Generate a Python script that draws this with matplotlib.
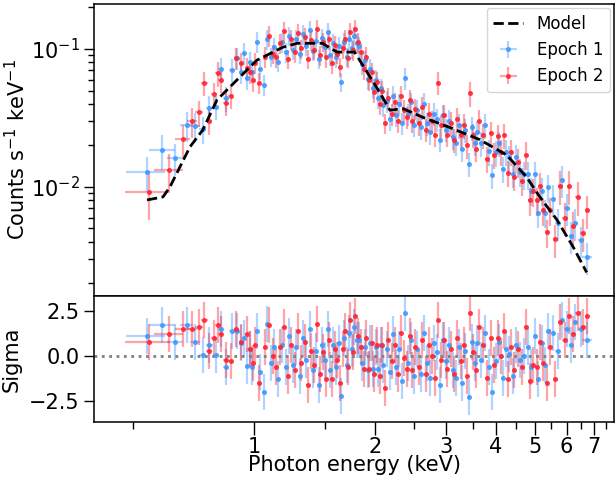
import numpy as np
import matplotlib
matplotlib.use("Agg")
import matplotlib.pyplot as plt
from matplotlib.ticker import FixedLocator, NullFormatter, FixedFormatter

# ---------------- data ----------------
model_energy = [0.542, 0.594, 0.618, 0.693, 0.746, 0.809, 0.907, 1.017, 1.18, 1.28,
                1.48, 1.61, 1.73, 1.78, 2.06, 2.18, 2.35, 2.63, 3.07, 3.65,
                4.26, 4.77, 5.14, 5.67, 6.22, 6.73]
model_counts = [0.00805, 0.00847, 0.0100, 0.0195, 0.0259, 0.0427, 0.0596, 0.083, 0.103, 0.110,
                0.110, 0.095, 0.095, 0.095, 0.048, 0.036, 0.037, 0.032, 0.027, 0.022,
                0.017, 0.0118, 0.0085, 0.0058, 0.0037, 0.0024]

e1_energy = [0.541, 0.592, 0.636, 0.680, 0.713, 0.745, 0.774, 0.804, 0.826, 0.852,
             0.880, 0.906, 0.930, 0.944, 0.959, 0.975, 0.990, 1.015, 1.035, 1.059, 1.080,
             1.100, 1.125, 1.150, 1.175, 1.200, 1.225, 1.250, 1.275, 1.300, 1.325,
             1.350, 1.375, 1.400, 1.425, 1.450, 1.475, 1.500, 1.525, 1.550, 1.575,
             1.600, 1.625, 1.650, 1.675, 1.700, 1.725, 1.750, 1.775, 1.800,
             1.83, 1.86, 1.89, 1.92, 1.95, 1.98, 2.01, 2.04, 2.07, 2.10,
             2.14, 2.18, 2.22, 2.26, 2.30, 2.34, 2.38, 2.42, 2.46, 2.50,
             2.55, 2.60, 2.65, 2.70, 2.75, 2.80, 2.85, 2.90, 2.95, 3.00,
             3.06, 3.12, 3.18, 3.24, 3.30, 3.36, 3.42, 3.48, 3.54, 3.60,
             3.68, 3.76, 3.84, 3.92, 4.00, 4.08, 4.16, 4.24, 4.32, 4.40,
             4.50, 4.60, 4.70, 4.80, 4.90, 5.00, 5.10, 5.20, 5.30, 5.40,
             5.55, 5.70, 5.85, 6.00, 6.15, 6.30, 6.50, 6.75]
e1_energy_err = [0.060, 0.045, 0.030, 0.025, 0.020, 0.016, 0.015, 0.014, 0.012, 0.012,
                 0.012, 0.012, 0.010, 0.008, 0.008, 0.008, 0.008, 0.010, 0.010, 0.011, 0.011,
                 0.0125, 0.0125, 0.0125, 0.0125, 0.0125, 0.0125, 0.0125, 0.0125, 0.0125, 0.0125,
                 0.0125, 0.0125, 0.0125, 0.0125, 0.0125, 0.0125, 0.0125, 0.0125, 0.0125, 0.0125,
                 0.0125, 0.0125, 0.0125, 0.0125, 0.0125, 0.0125, 0.0125, 0.0125, 0.0125,
                 0.015, 0.015, 0.015, 0.015, 0.015, 0.015, 0.015, 0.015, 0.015, 0.015,
                 0.02, 0.02, 0.02, 0.02, 0.02, 0.02, 0.02, 0.02, 0.02, 0.02,
                 0.025, 0.025, 0.025, 0.025, 0.025, 0.025, 0.025, 0.025, 0.025, 0.025,
                 0.03, 0.03, 0.03, 0.03, 0.03, 0.03, 0.03, 0.03, 0.03, 0.03,
                 0.04, 0.04, 0.04, 0.04, 0.04, 0.04, 0.04, 0.04, 0.04, 0.04,
                 0.05, 0.05, 0.05, 0.05, 0.05, 0.05, 0.05, 0.05, 0.05, 0.05,
                 0.075, 0.075, 0.075, 0.075, 0.075, 0.09, 0.11, 0.18]
e1_counts = [0.0128, 0.0185, 0.0163, 0.0281, 0.0277, 0.0263, 0.0376, 0.038, 0.0713, 0.044,
             0.071, 0.0857, 0.068, 0.094, 0.0613, 0.080, 0.0686, 0.113, 0.072, 0.055, 0.118,
             0.088, 0.104, 0.081, 0.112, 0.095, 0.125, 0.099, 0.118, 0.092, 0.128,
             0.106, 0.138, 0.097, 0.115, 0.085, 0.121, 0.104, 0.132, 0.090, 0.110,
             0.087, 0.105, 0.058, 0.112, 0.088, 0.118, 0.101, 0.125, 0.110,
             0.105, 0.078, 0.083, 0.061, 0.072, 0.052, 0.060, 0.044, 0.052, 0.039,
             0.042, 0.031, 0.046, 0.033, 0.040, 0.029, 0.062, 0.034, 0.041, 0.028,
             0.036, 0.027, 0.040, 0.029, 0.025, 0.034, 0.031, 0.022, 0.033, 0.026,
             0.030, 0.023, 0.021, 0.028, 0.019, 0.026, 0.0147, 0.027, 0.021, 0.025,
             0.0207, 0.028, 0.0181, 0.0122, 0.0178, 0.0208, 0.0136, 0.0180, 0.0165, 0.0124,
             0.0165, 0.0129, 0.0124, 0.0124, 0.0094, 0.0124, 0.0065, 0.0094, 0.0065, 0.0100,
             0.0082, 0.0055, 0.0112, 0.0070, 0.0044, 0.0055, 0.0041, 0.0031]
e1_rel_err = [0.28, 0.28, 0.26, 0.24, 0.24, 0.22, 0.22, 0.20, 0.20, 0.20,
              0.20, 0.18, 0.18, 0.18, 0.18, 0.18, 0.18, 0.17, 0.17, 0.17, 0.17,
              0.16, 0.16, 0.16, 0.16, 0.16, 0.16, 0.16, 0.16, 0.16, 0.16,
              0.16, 0.16, 0.16, 0.16, 0.16, 0.16, 0.16, 0.16, 0.16, 0.16,
              0.16, 0.16, 0.16, 0.16, 0.16, 0.16, 0.16, 0.16, 0.16,
              0.17, 0.17, 0.17, 0.17, 0.17, 0.17, 0.17, 0.17, 0.17, 0.17,
              0.18, 0.18, 0.18, 0.18, 0.18, 0.18, 0.18, 0.18, 0.18, 0.18,
              0.19, 0.19, 0.19, 0.19, 0.19, 0.19, 0.19, 0.19, 0.19, 0.19,
              0.20, 0.20, 0.20, 0.20, 0.20, 0.20, 0.20, 0.20, 0.20, 0.20,
              0.21, 0.21, 0.21, 0.21, 0.21, 0.21, 0.21, 0.21, 0.21, 0.21,
              0.23, 0.23, 0.23, 0.23, 0.23, 0.23, 0.23, 0.23, 0.23, 0.23,
              0.26, 0.26, 0.26, 0.26, 0.26, 0.26, 0.26, 0.26]
e1_sigma = [1.1, 1.7, 0.8, 1.7, 0.8, 0.05, 0.6, 0.05, 1.5, -0.6,
            1.4, 1.4, 0.7, 1.0, -0.55, 0.4, -0.6, 1.4, -0.9, -2.0, 1.8,
            -0.4, 0.5, -1.3, 0.6, -0.6, 1.1, -0.5, 0.5, -1.1, 1.0,
            -0.2, 1.5, -0.8, 0.3, -1.6, 0.6, -0.2, 1.5, -0.8, 0.6,
            -0.6, 0.7, -2.2, 1.0, -0.5, 1.3, 0.4, 1.6, 0.9,
            0.9, -0.4, 0.5, -0.8, 0.7, -0.7, 0.5, -0.7, 0.6, -0.5,
            0.4, -0.9, 1.2, -0.6, 0.4, -1.4, 2.4, -0.4, 0.9, -1.1,
            0.4, -1.0, 1.3, -0.4, -1.2, 0.7, 0.2, -1.6, 0.9, -0.3,
            0.6, -0.8, -1.2, 0.5, -1.5, 0.3, -2.3, 0.8, -0.4, 0.7,
            -0.2, 1.3, -0.6, -2.0, -0.3, 0.8, -1.2, 0.4, 0.1, -1.1,
            0.6, -0.2, 0.0, 0.5, -0.6, 1.1, -1.3, 0.7, -0.5, 1.4,
            1.3, 0.3, 2.0, 1.5, 0.6, 1.9, 1.5, 0.9]

e2_energy = [0.549, 0.615, 0.665, 0.700, 0.730, 0.753, 0.774, 0.795, 0.812, 0.826,
             0.850, 0.875, 0.902, 0.927, 0.959, 0.980, 0.995, 1.006, 1.030, 1.065, 1.088,
             1.1125, 1.1375, 1.1625, 1.1875, 1.2125, 1.2375, 1.2625, 1.2875, 1.3125, 1.3375,
             1.3625, 1.3875, 1.4125, 1.4375, 1.4625, 1.4875, 1.5125, 1.5375, 1.5625, 1.5875,
             1.6125, 1.6375, 1.6625, 1.6875, 1.7125, 1.7375, 1.7625, 1.7875, 1.8125,
             1.845, 1.875, 1.905, 1.935, 1.965, 1.995, 2.025, 2.055, 2.085, 2.115,
             2.16, 2.20, 2.24, 2.28, 2.32, 2.36, 2.40, 2.44, 2.48, 2.52,
             2.575, 2.625, 2.675, 2.725, 2.775, 2.825, 2.875, 2.925, 2.975, 3.025,
             3.09, 3.15, 3.21, 3.27, 3.33, 3.39, 3.45, 3.51, 3.57, 3.63,
             3.72, 3.80, 3.88, 3.96, 4.04, 4.12, 4.20, 4.28, 4.36, 4.44,
             4.55, 4.65, 4.75, 4.85, 4.95, 5.05, 5.15, 5.25, 5.35, 5.45,
             5.62, 5.78, 5.93, 6.08, 6.23, 6.40, 6.58, 6.73]
e2_energy_err = [0.070, 0.050, 0.030, 0.020, 0.016, 0.014, 0.012, 0.012, 0.010, 0.010,
                 0.012, 0.012, 0.012, 0.010, 0.010, 0.008, 0.008, 0.008, 0.010, 0.010, 0.010,
                 0.0125, 0.0125, 0.0125, 0.0125, 0.0125, 0.0125, 0.0125, 0.0125, 0.0125, 0.0125,
                 0.0125, 0.0125, 0.0125, 0.0125, 0.0125, 0.0125, 0.0125, 0.0125, 0.0125, 0.0125,
                 0.0125, 0.0125, 0.0125, 0.0125, 0.0125, 0.0125, 0.0125, 0.0125, 0.0125,
                 0.015, 0.015, 0.015, 0.015, 0.015, 0.015, 0.015, 0.015, 0.015, 0.015,
                 0.02, 0.02, 0.02, 0.02, 0.02, 0.02, 0.02, 0.02, 0.02, 0.02,
                 0.025, 0.025, 0.025, 0.025, 0.025, 0.025, 0.025, 0.025, 0.025, 0.025,
                 0.03, 0.03, 0.03, 0.03, 0.03, 0.03, 0.03, 0.03, 0.03, 0.03,
                 0.04, 0.04, 0.04, 0.04, 0.04, 0.04, 0.04, 0.04, 0.04, 0.04,
                 0.05, 0.05, 0.05, 0.05, 0.05, 0.05, 0.05, 0.05, 0.05, 0.05,
                 0.08, 0.08, 0.075, 0.075, 0.08, 0.09, 0.09, 0.08]
e2_counts = [0.00925, 0.0133, 0.0222, 0.030, 0.0347, 0.057, 0.030, 0.047, 0.0667, 0.060,
             0.0407, 0.0457, 0.0857, 0.0787, 0.0725, 0.068, 0.060, 0.0796, 0.057, 0.088, 0.125,
             0.092, 0.087, 0.110, 0.136, 0.085, 0.118, 0.095, 0.131, 0.101, 0.123,
             0.085, 0.116, 0.099, 0.140, 0.090, 0.113, 0.087, 0.118, 0.079, 0.107,
             0.092, 0.074, 0.101, 0.118, 0.086, 0.133, 0.098, 0.140, 0.112,
             0.095, 0.072, 0.088, 0.060, 0.068, 0.049, 0.058, 0.040, 0.050, 0.029,
             0.044, 0.034, 0.041, 0.030, 0.046, 0.036, 0.032, 0.043, 0.030, 0.037,
             0.029, 0.038, 0.026, 0.034, 0.030, 0.024, 0.057, 0.028, 0.033, 0.024,
             0.029, 0.022, 0.031, 0.024, 0.028, 0.020, 0.0477, 0.024, 0.019, 0.0302,
             0.0238, 0.016, 0.0245, 0.0171, 0.0234, 0.0180, 0.0238, 0.0127, 0.0180, 0.0119,
             0.0152, 0.0111, 0.0171, 0.0080, 0.0093, 0.0080, 0.0102, 0.0068, 0.0047, 0.0068,
             0.0042, 0.0102, 0.0060, 0.0102, 0.0052, 0.0085, 0.0046, 0.0068]
e2_rel_err = [0.38, 0.30, 0.26, 0.24, 0.22, 0.20, 0.20, 0.20, 0.20, 0.20,
              0.20, 0.20, 0.18, 0.18, 0.18, 0.18, 0.18, 0.17, 0.17, 0.17, 0.17,
              0.16, 0.16, 0.16, 0.16, 0.16, 0.16, 0.16, 0.16, 0.16, 0.16,
              0.16, 0.16, 0.16, 0.16, 0.16, 0.16, 0.16, 0.16, 0.16, 0.16,
              0.16, 0.16, 0.16, 0.16, 0.16, 0.16, 0.16, 0.16, 0.16,
              0.17, 0.17, 0.17, 0.17, 0.17, 0.17, 0.17, 0.17, 0.17, 0.17,
              0.18, 0.18, 0.18, 0.18, 0.18, 0.18, 0.18, 0.18, 0.18, 0.18,
              0.19, 0.19, 0.19, 0.19, 0.19, 0.19, 0.19, 0.19, 0.19, 0.19,
              0.20, 0.20, 0.20, 0.20, 0.20, 0.20, 0.20, 0.20, 0.20, 0.20,
              0.21, 0.21, 0.21, 0.21, 0.21, 0.21, 0.21, 0.21, 0.21, 0.21,
              0.23, 0.23, 0.23, 0.23, 0.23, 0.23, 0.23, 0.23, 0.23, 0.23,
              0.27, 0.27, 0.27, 0.27, 0.27, 0.27, 0.27, 0.27]
e2_sigma = [0.8, 1.2, 1.5, 1.5, 1.6, 2.0, 0.3, 1.0, 1.7, 1.2,
            -0.2, -0.3, 1.5, 0.8, 1.2, 0.4, -0.4, 0.6, -1.5, 0.5, 1.7,
            0.0, -0.6, 0.5, 1.6, -1.1, 0.6, -0.8, 1.4, -0.4, 0.8,
            -1.6, 0.3, -0.5, 1.8, -1.0, 0.2, -1.3, 0.9, -1.3, 0.4,
            -0.2, -1.5, 0.4, 1.4, -0.6, 2.0, 0.2, 2.2, 1.1,
            0.5, -0.7, 1.0, -0.7, 0.7, -1.0, 0.6, -1.1, 0.6, -1.8,
            0.9, -0.3, 0.6, -1.0, 1.3, -0.1, -0.7, 1.1, -0.8, 0.5,
            -0.6, 0.9, -1.0, 0.6, 0.0, -1.2, 2.0, -0.2, 0.9, -0.7,
            0.4, -1.0, 1.0, -0.3, 0.6, -1.1, 2.4, 0.2, -0.8, 1.6,
            0.6, -1.2, 1.0, -0.5, 1.0, 0.0, 1.4, -1.3, 0.5, -0.8,
            0.4, -0.6, 1.6, -1.4, -0.5, -0.6, 0.8, -0.4, -1.5, 0.5,
            -1.3, 1.9, 0.9, 2.2, 1.2, 2.4, 1.6, 2.2]

# ---------------- figure ----------------
plt.rcParams['font.family'] = ['DejaVu Sans']
fig = plt.figure(figsize=(6.16, 4.79), dpi=100)
ax1 = fig.add_axes([94/616, 1-296/479, 520/616, 292/479])
ax2 = fig.add_axes([94/616, 1-422/479, 520/616, 126/479], sharex=ax1)

blue = (0.25, 0.6, 1.0)
red = (1.0, 0.15, 0.2)

def draw(ax, x, xe, y, ye, col, label=None):
    return ax.errorbar(x, y, xerr=xe, yerr=ye, fmt='o', ms=3.6, mew=0,
                       color=col + (0.9,), ecolor=col + (0.42,), elinewidth=1.6,
                       capsize=0, label=label)

e1_cerr = np.array(e1_counts) * np.array(e1_rel_err)
e2_cerr = np.array(e2_counts) * np.array(e2_rel_err)

ax1.plot(model_energy, model_counts, color='black', ls='--', lw=2.0, label='Model', zorder=5)
draw(ax1, e1_energy, e1_energy_err, e1_counts, e1_cerr, blue, 'Epoch 1')
draw(ax1, e2_energy, e2_energy_err, e2_counts, e2_cerr, red, 'Epoch 2')

ones1 = np.ones(len(e1_sigma))
ones2 = np.ones(len(e2_sigma))
draw(ax2, e1_energy, e1_energy_err, e1_sigma, ones1, blue)
draw(ax2, e2_energy, e2_energy_err, e2_sigma, ones2, red)
ax2.axhline(0, color='grey', ls=':', lw=2)

ax1.set_xscale('log')
ax1.set_yscale('log')
ax1.set_xlim(0.40, 7.87)
ax1.set_ylim(0.00162, 0.212)
ax2.set_ylim(-3.67, 3.33)

ax2.xaxis.set_major_locator(FixedLocator([1, 2, 3, 4, 5, 6, 7]))
ax2.xaxis.set_major_formatter(FixedFormatter(['1', '2', '3', '4', '5', '6', '7']))
ax2.xaxis.set_minor_locator(FixedLocator([0.5, 1.5, 2.5, 3.5, 4.5, 5.5, 6.5, 7.5]))
ax2.xaxis.set_minor_formatter(NullFormatter())
ax2.set_yticks([-2.5, 0.0, 2.5])

ax1.tick_params(axis='x', which='both', length=0, labelbottom=False)
ax1.tick_params(axis='y', which='major', length=7, width=1, labelsize=15)
ax1.tick_params(axis='y', which='minor', length=4, width=1)
ax2.tick_params(axis='y', which='major', length=7, width=1, labelsize=15)
ax2.tick_params(axis='x', which='major', length=9, width=1, labelsize=15, pad=2)
ax2.tick_params(axis='x', which='minor', length=5, width=1)

ax1.set_ylabel(r'Counts s$^{-1}$ keV$^{-1}$', fontsize=15)
ax2.set_ylabel('Sigma', fontsize=15)
ax2.set_xlabel('Photon energy (keV)', fontsize=15)
ax1.yaxis.set_label_coords(-0.125, 0.5)
ax2.yaxis.set_label_coords(-0.14, 0.5)
ax2.xaxis.set_label_coords(0.5, -0.265)

for ax in (ax1, ax2):
    for s in ax.spines.values():
        s.set_linewidth(1.1)

ax1.legend(loc='upper right', fontsize=12, handlelength=1.8, borderaxespad=0.25)

fig.savefig('out.png', dpi=100)
